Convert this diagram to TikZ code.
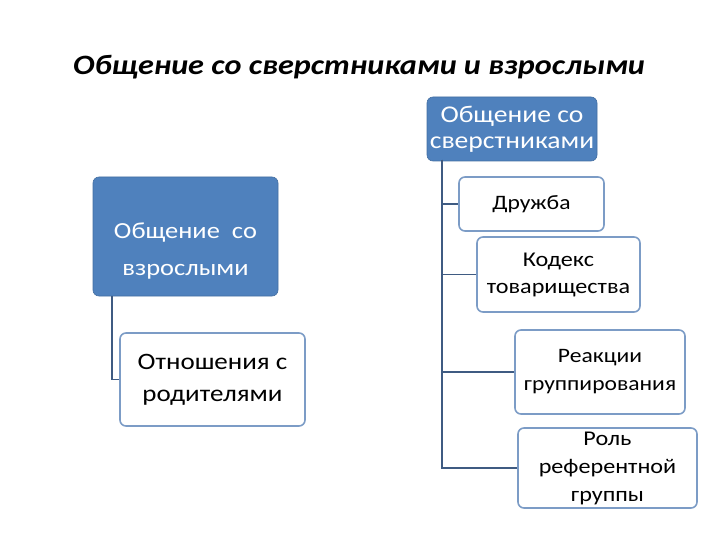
\documentclass[tikz,border=0pt]{standalone}
\usepackage{fontspec}
\setmainfont{Carlito}[FakeStretch=1.15]
\definecolor{boxblue}{HTML}{4F81BD}
\definecolor{edgeblue}{HTML}{7C9CC6}
\definecolor{linecol}{HTML}{3F5B82}
\begin{document}
\begin{tikzpicture}[x=1pt,y=-1pt,
  bluebox/.style={draw=boxblue!85!black,line width=0.6pt,fill=boxblue,rounded corners=6pt,text=white,align=center,inner sep=0pt},
  whitebox/.style={draw=edgeblue,line width=1.6pt,fill=white,rounded corners=6pt,text=black,align=center,inner sep=0pt},
  conn/.style={draw=linecol,line width=1.3pt}]
\useasboundingbox (0,0) rectangle (720,540);
% title
\node[font=\fontsize{28}{32}\selectfont\bfseries\itshape] (title) at (359,67) {Общение со сверстниками и взрослыми};
% left column
\node[bluebox,minimum width=185pt,minimum height=119pt,font=\fontsize{23}{37}\selectfont] (adult) at (185.5,236.5)
  {\raisebox{-19.5pt}[0pt][0pt]{\begin{tabular}{@{}c@{}}Общение~ со\\взрослыми\end{tabular}}};
\node[whitebox,minimum width=185pt,minimum height=93pt,font=\fontsize{23.5}{32}\selectfont] (parents) at (212.5,379.5) {Отношения с\\родителями};
% right column
\node[bluebox,minimum width=170pt,minimum height=64pt,font=\fontsize{24}{26}\selectfont] (peers) at (512,129) {Общение со\\сверстниками};
\node[whitebox,minimum width=145pt,minimum height=54pt,font=\fontsize{20.5}{27}\selectfont] (friend) at (531.5,204) {Дружба};
\node[whitebox,minimum width=163pt,minimum height=75pt,font=\fontsize{21}{27}\selectfont] (code) at (558.5,274.5) {Кодекс\\товарищества};
\node[whitebox,minimum width=170pt,minimum height=84pt,font=\fontsize{20.5}{28}\selectfont] (react) at (600,372) {Реакции\\группирования};
\node[whitebox,minimum width=179pt,minimum height=80pt,font=\fontsize{21}{28}\selectfont] (role) at (607.5,468) {Роль\\референтной\\группы};
% connectors
\coordinate (lt) at (112,296);
\coordinate (rt) at (442,160);
\draw[conn] (lt) |- (parents.west);
\draw[conn] (rt) |- (friend.west);
\draw[conn] (rt) |- (code.west);
\draw[conn] (rt) |- (react.west);
\draw[conn] (rt) |- (role.west);
\end{tikzpicture}
\end{document}
